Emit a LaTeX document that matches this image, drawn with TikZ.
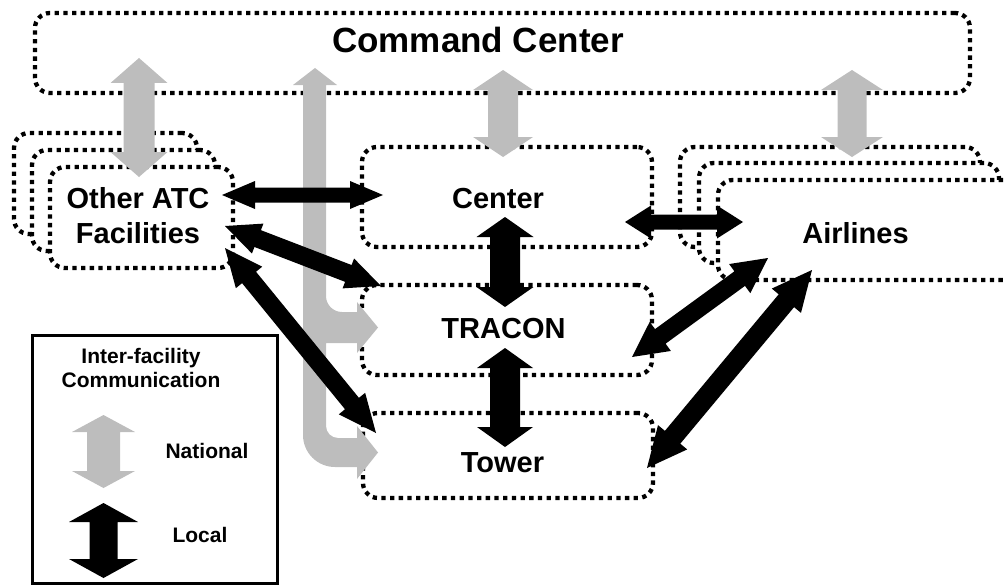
\documentclass[tikz,border=0pt]{standalone}
\usepackage{fontspec}
\setmainfont{Liberation Sans}
\usetikzlibrary{calc}
\definecolor{natgray}{gray}{0.74}
\tikzset{
  facility/.style={draw=black, fill=white, line width=4.3pt,
    dash pattern=on 4.3pt off 4.4pt, rounded corners=15pt, inner sep=0pt},
  lbl/.style={font=\fontsize{29}{35}\selectfont\bfseries, anchor=base, inner sep=0pt},
  biglbl/.style={font=\fontsize{35}{42}\selectfont\bfseries, anchor=base, inner sep=0pt},
  leglbl/.style={font=\fontsize{21}{25}\selectfont\bfseries, anchor=base, inner sep=0pt},
  national/.style={fill=natgray},
  local/.style={fill=black},
}
% double-headed block arrow: style, from, to, head length, head half-width, shaft half-width
\newcommand\fatarrow[6]{%
  \fill[#1] (#2)
    -- ($(#2)!#4!(#3)!#5!90:(#3)$) -- ($(#2)!#4!(#3)!#6!90:(#3)$)
    -- ($(#3)!#4!(#2)!#6!-90:(#2)$) -- ($(#3)!#4!(#2)!#5!-90:(#2)$)
    -- (#3)
    -- ($(#3)!#4!(#2)!#5!90:(#2)$) -- ($(#3)!#4!(#2)!#6!90:(#2)$)
    -- ($(#2)!#4!(#3)!#6!-90:(#3)$) -- ($(#2)!#4!(#3)!#5!-90:(#3)$)
    -- cycle;}
\begin{document}
\begin{tikzpicture}[x=1pt, y=-1pt]
\useasboundingbox (0,0) rectangle (1004,586);
\clip (0,0) rectangle (1004,586);

% facility boxes
\node[facility, fill=none, minimum width=935pt, minimum height=80pt] (cmd) at (502.5,53) {};
\node[facility, minimum width=183pt, minimum height=101pt] (atc3) at (105.5,183.5) {};
\node[facility, minimum width=183pt, minimum height=101pt] (atc2) at (123.5,200.5) {};
\node[facility, minimum width=183pt, minimum height=101pt] (atc) at (141.5,217.5) {};
\node[facility, minimum width=290pt, minimum height=100pt] (center) at (507,197) {};
\node[facility, minimum width=290pt, minimum height=90pt] (tracon) at (507,330) {};
\node[facility, minimum width=290pt, minimum height=85pt] (tower) at (508,455.5) {};
\node[facility, minimum width=300pt, minimum height=100pt] (air3) at (830,197) {};
\node[facility, minimum width=300pt, minimum height=100pt] (air2) at (849,213) {};
\node[facility, minimum width=300pt, minimum height=100pt] (air) at (868,230) {};

% legend frame
\node[draw=black, line width=3pt, minimum width=245pt, minimum height=248pt, inner sep=0pt] (legend) at (154.5,459) {};

% arrow end points
\coordinate (nA1) at (139,58);   \coordinate (nA2) at (139,177);
\coordinate (nC1) at (503,70);   \coordinate (nC2) at (503,157);
\coordinate (nL1) at (852,70);   \coordinate (nL2) at (852,157);
\coordinate (gT1) at (103.5,415); \coordinate (gT2) at (103.5,488);
\coordinate (bT1) at (103.5,503); \coordinate (bT2) at (103.5,578);
\coordinate (acA) at (222,195);  \coordinate (acB) at (383,195);
\coordinate (atA) at (225,226);  \coordinate (atB) at (381,286);
\coordinate (awA) at (225,248);  \coordinate (awB) at (376,433);
\coordinate (ctA) at (505,217);  \coordinate (ctB) at (505,307);
\coordinate (twA) at (505,348);  \coordinate (twB) at (505,447);
\coordinate (caA) at (625,222);  \coordinate (caB) at (743,222);
\coordinate (taA) at (632,357);  \coordinate (taB) at (768,258);
\coordinate (waA) at (647,468);  \coordinate (waB) at (812,270);

% national links
\fatarrow{national}{nA1}{nA2}{25pt}{28.5pt}{15.5pt}
\fatarrow{national}{nC1}{nC2}{20pt}{30pt}{15pt}
\fatarrow{national}{nL1}{nL2}{20pt}{31pt}{14.5pt}
% command center feed branching to TRACON and Tower
\fill[national] (315,68) -- (337,85) -- (326,85) -- (326,296)
  .. controls (326,304.8) and (333.2,312) .. (342,312)
  -- (357,312) -- (357,302) -- (378,327.5) -- (357,353) -- (357,343)
  -- (326,343) -- (326,426)
  .. controls (326,432.6) and (331.4,438) .. (338,438)
  -- (357,438) -- (357,426) -- (378,452.5) -- (357,479) -- (357,467)
  -- (335,467) .. controls (317.3,467) and (303,452.7) .. (303,435)
  -- (303,85) -- (293,85) -- cycle;
\fatarrow{national}{gT1}{gT2}{17pt}{31.5pt}{16.5pt}

% local links
\fatarrow{local}{acA}{acB}{33pt}{14pt}{7.5pt}
\fatarrow{local}{atA}{atB}{35pt}{16pt}{9pt}
\fatarrow{local}{awA}{awB}{38pt}{17pt}{9pt}
\fatarrow{local}{ctA}{ctB}{20pt}{28.5pt}{15pt}
\fatarrow{local}{twA}{twB}{20pt}{28pt}{15pt}
\fatarrow{local}{caA}{caB}{26pt}{16.5pt}{7.5pt}
\fatarrow{local}{taA}{taB}{35pt}{18pt}{9pt}
\fatarrow{local}{waA}{waB}{40pt}{19pt}{10pt}
\fatarrow{local}{bT1}{bT2}{19pt}{34.5pt}{14pt}

% labels
\node[biglbl] (cmdlbl) at (478,53) {Command Center};
\node[lbl] (atclbl1) at (138,208) {Other ATC};
\node[lbl] (atclbl2) at (138,243) {Facilities};
\node[lbl] (centerlbl) at (498,208) {Center};
\node[lbl] (traconlbl) at (503.5,338) {TRACON};
\node[lbl] (towerlbl) at (502.5,472) {Tower};
\node[lbl] (airlbl) at (855.5,243) {Airlines};
\node[leglbl] (leg1) at (141,363) {Inter-facility};
\node[leglbl] (leg2) at (141,387) {Communication};
\node[leglbl] (leg3) at (207,458) {National};
\node[leglbl] (leg4) at (200,542) {Local};
\end{tikzpicture}
\end{document}
